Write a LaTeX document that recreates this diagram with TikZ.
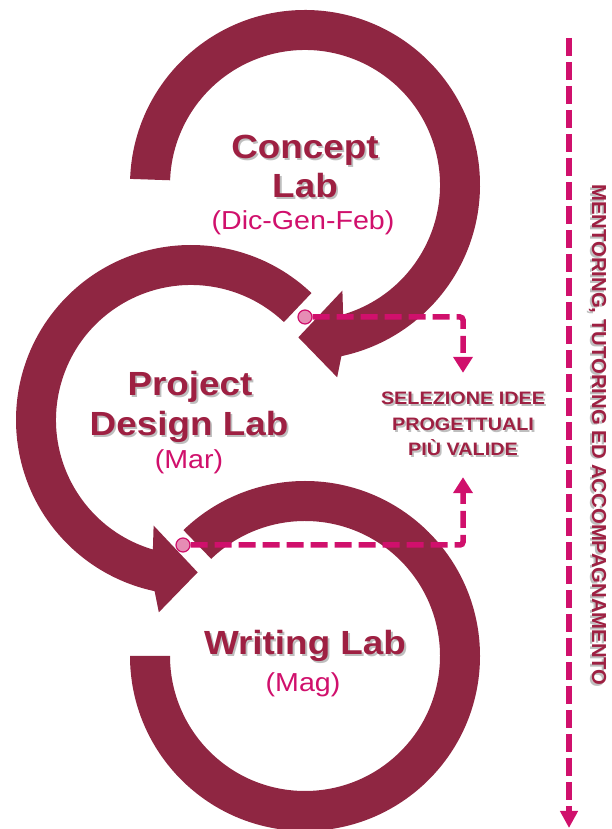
\documentclass[tikz,border=0pt]{standalone}
\usepackage{fontspec}
\setmainfont{Liberation Sans}
\newfontfamily\widefont{Liberation Sans}[FakeStretch=1.1]
\usetikzlibrary{arrows.meta}

\definecolor{ringred}{RGB}{143,38,66}
\definecolor{titlered}{RGB}{158,32,66}
\definecolor{linepink}{RGB}{208,16,108}
\definecolor{dotpink}{RGB}{230,140,180}
\definecolor{shadowgray}{RGB}{190,190,190}

\newcommand{\shtext}[1]{\rlap{\kern1.8pt\raisebox{-1.8pt}{\textcolor{shadowgray}{#1}}}#1}

\tikzset{
  ringarrow/.style={fill=ringred},
  labtitle/.style={anchor=base,inner sep=0,text=titlered,
    font=\widefont\bfseries\fontsize{33.5}{39}\selectfont},
  labmonth/.style={anchor=base,inner sep=0,text=linepink,
    font=\widefont\fontsize{26}{30}\selectfont},
  seltext/.style={inner sep=0,minimum height=104pt,align=center,text=titlered,
    font=\widefont\bfseries\fontsize{18}{25.5}\selectfont},
  sidetext/.style={anchor=base,inner sep=0,rotate=-90,text=titlered,
    font=\bfseries\fontsize{20.3}{24}\selectfont},
  seldot/.style={circle,fill=dotpink,draw=linepink,line width=1.2pt,
    minimum size=14pt,inner sep=0},
  selflow/.style={draw=linepink,line width=5.5pt,dash pattern=on 17pt off 7pt,
    rounded corners=3pt,-{Triangle[length=16pt,width=19pt]}},
  sideflow/.style={draw=linepink,line width=5.5pt,dash pattern=on 18pt off 6pt,
    -{Triangle[length=17pt,width=17pt]}}
}

\begin{document}
\begin{tikzpicture}[x=1pt,y=1pt]
  \useasboundingbox (0,0) rectangle (612,829);

  % Concept Lab
  \begin{scope}[shift={(305,644)}]
    \fill[ringarrow] (178:175) arc[start angle=178,end angle=-78,radius=175]
      -- (-80.5:195) -- (-92.5:152.5) -- (-70.5:112) -- (-73.6:135)
      arc[start angle=-73.6,end angle=178,radius=135] -- cycle;
  \end{scope}
  % Project Design Lab
  \begin{scope}[shift={(191,409)}]
    \fill[ringarrow] (46.5:175) arc[start angle=46.5,end angle=258,radius=175]
      -- (260.5:195) -- (272.5:152.5) -- (250.5:112) -- (253.6:135)
      arc[start angle=253.6,end angle=46.5,radius=135] -- cycle;
  \end{scope}
  % Writing Lab
  \begin{scope}[shift={(305,173)}]
    \fill[ringarrow] (180:175) arc[start angle=180,end angle=494,radius=175]
      -- (494:135) arc[start angle=494,end angle=180,radius=135] -- cycle;
  \end{scope}

  \begin{scope}[every node/.style={labtitle}]
    \node (concept) at (305,670) {\shtext{Concept}};
    \node (conceptlab) at (305,631) {\shtext{Lab}};
    \node (project) at (190,433) {\shtext{Project}};
    \node (design) at (189,393) {\shtext{Design Lab}};
    \node (writing) at (305,174) {\shtext{Writing Lab}};
  \end{scope}
  \begin{scope}[every node/.style={labmonth}]
    \node (dicgenfeb) at (303,599) {(Dic-Gen-Feb)};
    \node (mar) at (189,360) {(Mar)};
    \node (mag) at (303,137) {(Mag)};
  \end{scope}

  \node[seltext] (sel) at (463,404)
    {\shtext{SELEZIONE IDEE}\\\shtext{PROGETTUALI}\\\shtext{PIÙ VALIDE}};
  \node[seldot] (dot1) at (305,512) {};
  \node[seldot] (dot2) at (183,284) {};
  \draw[selflow] (dot1) -| (sel.north);
  \draw[selflow] (dot2) -| (sel.south);

  \coordinate (mtop) at (569,791);
  \coordinate (mbot) at (569,1);
  \draw[sideflow] (mtop) -- (mbot);
  \node[sidetext] (side) at (592,394)
    {\shtext{MENTORING, TUTORING ED ACCOMPAGNAMENTO}};
\end{tikzpicture}
\end{document}
